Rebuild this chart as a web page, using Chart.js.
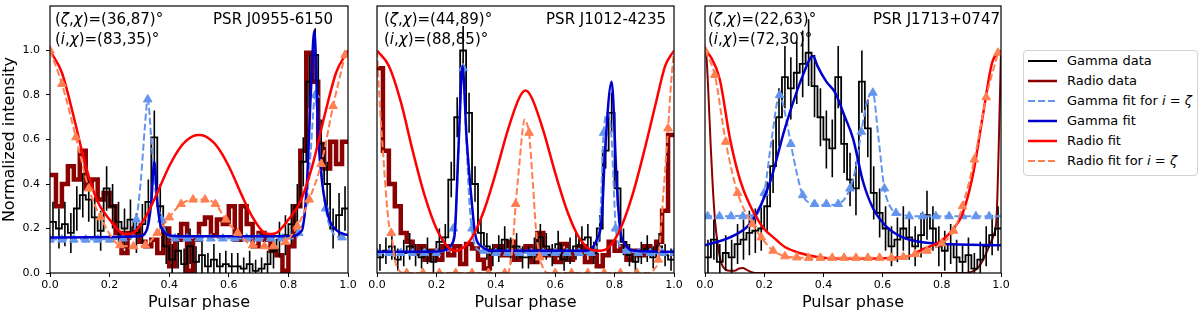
<!DOCTYPE html>
<html><head><meta charset="utf-8">
<script src="https://cdn.jsdelivr.net/npm/chart.js@4/dist/chart.umd.min.js"></script>
<style>
html,body{margin:0;padding:0;background:#fff;width:1200px;height:316px;overflow:hidden;font-family:"DejaVu Sans",sans-serif;}
canvas{position:absolute;top:0;}
#legend{position:absolute;left:1023px;top:50px;width:173px;height:124px;border:1px solid #d3d3d3;border-radius:4px;background:#fff;font-size:13px;color:#000;}
#legend .row{position:absolute;left:0;height:20px;line-height:20px;white-space:nowrap;}
#legend svg{position:absolute;left:4px;top:0;}
#legend span.t{position:absolute;left:43px;top:0;}
</style></head><body>
<canvas id="c1" width="365" height="316" style="left:0px"></canvas>
<canvas id="c2" width="330" height="316" style="left:360px"></canvas>
<canvas id="c3" width="325" height="316" style="left:690px"></canvas>
<div id="legend">
 <div class="row" style="top:0px"><svg width="30" height="20"><line x1="0" y1="10" x2="29" y2="10" stroke="#000" stroke-width="2"/></svg><span class="t">Gamma data</span></div>
 <div class="row" style="top:20px"><svg width="30" height="20"><line x1="0" y1="10" x2="29" y2="10" stroke="#8b0000" stroke-width="2.5"/></svg><span class="t">Radio data</span></div>
 <div class="row" style="top:40px"><svg width="30" height="20"><line x1="0" y1="10" x2="29" y2="10" stroke="#6495ED" stroke-width="2" stroke-dasharray="7,3"/></svg><span class="t">Gamma fit for <i>i</i> = <i>ζ</i></span></div>
 <div class="row" style="top:60px"><svg width="30" height="20"><line x1="0" y1="10" x2="29" y2="10" stroke="#0000CD" stroke-width="2.5"/></svg><span class="t">Gamma fit</span></div>
 <div class="row" style="top:80px"><svg width="30" height="20"><line x1="0" y1="10" x2="29" y2="10" stroke="#ff0000" stroke-width="2.5"/></svg><span class="t">Radio fit</span></div>
 <div class="row" style="top:100px"><svg width="30" height="20"><line x1="0" y1="10" x2="29" y2="10" stroke="#FF7F50" stroke-width="2" stroke-dasharray="7,3"/></svg><span class="t">Radio fit for <i>i</i> = <i>ζ</i></span></div>
</div>
<script>
// ---------- axis ticks ----------
const phaseTicks = [0, 0.2, 0.4, 0.6, 0.8, 1.0];
const intensityTicks = [0, 0.2, 0.4, 0.6, 0.8, 1.0];

// ---------- PSR J0955-6150 ----------
const p1Name = 'PSR J0955-6150';
const p1ZetaChi = [36, 87];
const p1IChi = [83, 35];
const p1Gamma = [0.23,0.20,0.22,0.18,0.29,0.35,0.33,0.25,0.19,0.38, 0.30,0.23,0.20,0.24,0.18,0.22,0.32,0.61,0.30,0.12, 0.06,0.10,0.04,0.12,0.05, 0.08,0.03,0.06,0.03,0.04, 0.03,0.03,0.02,0.04,0.01, 0.02,0.04,0.10,0.15,0.17, 0.22,0.30,0.50,0.86,0.98, 0.58,0.40,0.20,0.26,0.29];
const p1GammaErr = [0.09,0.09,0.10,0.09,0.10,0.10,0.10,0.09,0.09,0.10, 0.10,0.09,0.09,0.09,0.09,0.09,0.10,0.12,0.10,0.08, 0.07,0.08,0.07,0.08,0.07, 0.08,0.06,0.07,0.06,0.06, 0.06,0.06,0.05,0.06,0.05, 0.05,0.06,0.08,0.08,0.09, 0.09,0.10,0.11,0.12,0.12, 0.11,0.10,0.09,0.10,0.10];
const p1Radio = [0.44,0.30,0.40,0.48,0.42,0.55,0.38,0.42,0.33,0.36, 0.30,0.18,0.09,0.18,0.20,0.14,0.12,0.15,0.09,0.20, 0.03,0.15,0.22,0.01,0.15, 0.22,0.25,0.17,0.24,0.22, 0.30,0.15,0.30,0.22,0.12, 0.18,0.15,0.10,0.08,0.01, 0.12,0.30,0.55,0.99,0.86, 0.58,0.47,0.59,0.49,0.59];
const p1RadioFitX = [0,0.04,0.08,0.12,0.16,0.20,0.24,0.26,0.28,0.32,0.36,0.40,0.44,0.48,0.50,0.52,0.56,0.60,0.64,0.68,0.72,0.74,0.76,0.80,0.84,0.88,0.92,0.96,1.0];
const p1RadioFitY = [1.0,0.90,0.70,0.48,0.32,0.24,0.18,0.175,0.18,0.25,0.36,0.48,0.57,0.615,0.62,0.615,0.57,0.48,0.36,0.25,0.18,0.175,0.18,0.24,0.32,0.48,0.70,0.90,1.0];
const p1RadioZetaX = [0.0,0.04,0.087,0.13,0.17,0.235,0.28,0.32,0.36,0.40,0.44,0.48,0.52,0.555,0.59,0.63,0.68,0.72,0.75,0.79,0.83,0.87,0.91,0.95,0.99];
const p1RadioZetaY = [1.0,0.85,0.61,0.38,0.25,0.125,0.12,0.125,0.18,0.25,0.31,0.33,0.33,0.31,0.24,0.18,0.125,0.12,0.12,0.14,0.21,0.33,0.49,0.75,0.98];
const p1RadioZetaMarkX = p1RadioZetaX;
const p1RadioZetaMarkY = p1RadioZetaY;
const p1GammaZetaX = [0,0.27,0.29,0.305,0.318,0.328,0.34,0.355,0.375,0.40,0.82,0.84,0.86,0.875,0.89,0.905,0.925,0.95,0.98,1.0];
const p1GammaZetaY = [0.15,0.155,0.24,0.42,0.65,0.78,0.60,0.36,0.24,0.16,0.155,0.19,0.30,0.55,0.80,0.55,0.29,0.18,0.16,0.16];
const p1GammaZetaMarkX = [0.0,0.04,0.08,0.12,0.16,0.20,0.245,0.29,0.328,0.375,0.42,0.46,0.50,0.54,0.58,0.62,0.66,0.70,0.74,0.78,0.835,0.89,0.925,0.98];
const p1GammaZetaMarkY = [0.15,0.15,0.15,0.15,0.15,0.15,0.155,0.24,0.78,0.24,0.155,0.155,0.155,0.155,0.155,0.155,0.155,0.155,0.155,0.155,0.18,0.80,0.29,0.16];
const p1GammaFitX = [0,0.30,0.32,0.33,0.34,0.35,0.36,0.37,0.38,0.40,0.44,0.80,0.845,0.862,0.875,0.887,0.90,0.913,0.935,0.963,1.0];
const p1GammaFitY = [0.16,0.165,0.18,0.22,0.32,0.50,0.32,0.22,0.19,0.17,0.165,0.165,0.19,0.40,0.80,1.09,0.62,0.41,0.25,0.19,0.17];

// ---------- PSR J1012-4235 ----------
const p2Name = 'PSR J1012-4235';
const p2ZetaChi = [44, 89];
const p2IChi = [88, 85];
const p2Gamma = [0.07,0.10,0.12,0.06,0.09,0.12,0.08,0.07,0.10,0.05, 0.14,0.16,0.42,0.70,1.00,0.72,0.40,0.18,0.12,0.08, 0.11,0.15,0.10,0.12,0.07, 0.07,0.10,0.16,0.12,0.08, 0.13,0.06,0.10,0.12,0.15, 0.16,0.09,0.20,0.55,0.72, 0.38,0.14,0.08,0.05,0.09, 0.11,0.07,0.12,0.08,0.06];
const p2GammaErr = [0.06,0.06,0.06,0.05,0.06,0.06,0.05,0.05,0.06,0.05, 0.06,0.06,0.08,0.09,0.11,0.09,0.08,0.06,0.06,0.05, 0.06,0.06,0.06,0.06,0.05, 0.05,0.06,0.06,0.06,0.05, 0.06,0.05,0.06,0.06,0.06, 0.06,0.05,0.06,0.08,0.09, 0.08,0.06,0.05,0.05,0.05, 0.06,0.05,0.06,0.05,0.05];
const p2Radio = [0.92,0.55,0.40,0.30,0.18,0.14,0.09,0.12,0.06,0.10, 0.06,0.12,0.08,0.12,0.04,0.13,0.11,0.06,0.02,0.10, 0.12,0.08,0.14,0.06,0.10, 0.12,0.05,0.18,0.08,0.10, 0.05,0.13,0.06,0.09,0.12, 0.05,0.08,0.03,0.08,0.14, 0.10,0.12,0.06,0.10,0.08, 0.12,0.10,0.14,0.28,0.62];
const p2RadioFitX = [0,0.04,0.08,0.12,0.16,0.20,0.24,0.26,0.28,0.32,0.36,0.40,0.44,0.48,0.50,0.52,0.56,0.60,0.64,0.68,0.72,0.75,0.78,0.82,0.86,0.90,0.94,0.97,1.0];
const p2RadioFitY = [1.0,0.93,0.77,0.55,0.35,0.20,0.115,0.10,0.105,0.16,0.28,0.45,0.64,0.79,0.82,0.79,0.64,0.45,0.28,0.16,0.105,0.10,0.115,0.20,0.35,0.55,0.77,0.93,1.0];
const p2RadioZetaX = [0,0.01,0.02,0.03,0.04,0.048,0.06,0.075,0.09,0.44,0.455,0.467,0.48,0.49,0.497,0.505,0.512,0.525,0.535,0.548,0.56,0.575,0.92,0.935,0.947,0.965,0.98,0.99,1.0];
const p2RadioZetaY = [1.0,0.74,0.55,0.36,0.22,0.18,0.06,0.01,0.0,0.0,0.10,0.31,0.50,0.64,0.69,0.67,0.63,0.40,0.20,0.07,0.02,0.0,0.0,0.02,0.06,0.37,0.65,0.85,1.0];
const p2RadioZetaMarkX = [0.048,0.10,0.155,0.21,0.265,0.32,0.375,0.43,0.467,0.512,0.548,0.60,0.655,0.71,0.765,0.82,0.875,0.947,0.98];
const p2RadioZetaMarkY = [0.18,0.0,0.0,0.0,0.0,0.0,0.0,0.0,0.31,0.63,0.07,0.0,0.0,0.0,0.0,0.0,0.0,0.06,0.65];
const p2GammaZetaX = [0,0.24,0.255,0.265,0.276,0.288,0.30,0.312,0.325,0.345,0.40,0.72,0.74,0.752,0.763,0.778,0.79,0.803,0.815,0.85,1.0];
const p2GammaZetaY = [0.09,0.10,0.14,0.25,0.60,0.93,0.62,0.30,0.15,0.10,0.09,0.09,0.12,0.25,0.63,0.72,0.60,0.22,0.13,0.095,0.09];
const p2GammaZetaMarkX = [0.0,0.04,0.08,0.12,0.16,0.20,0.257,0.29,0.32,0.36,0.40,0.44,0.48,0.52,0.56,0.60,0.64,0.68,0.72,0.763,0.803,0.84,0.88,0.92,0.96,1.0];
const p2GammaZetaMarkY = [0.09,0.09,0.09,0.09,0.09,0.09,0.2,0.92,0.2,0.10,0.09,0.09,0.09,0.09,0.09,0.09,0.09,0.09,0.09,0.63,0.2,0.10,0.09,0.09,0.09,0.09];
const p2GammaFitX = [0,0.20,0.24,0.252,0.262,0.274,0.288,0.302,0.319,0.33,0.352,0.40,0.70,0.74,0.757,0.768,0.79,0.807,0.818,0.835,0.87,1.0];
const p2GammaFitY = [0.095,0.097,0.11,0.13,0.18,0.55,0.93,0.60,0.32,0.18,0.12,0.10,0.10,0.15,0.25,0.55,0.86,0.41,0.20,0.13,0.10,0.095];

// ---------- PSR J1713+0747 ----------
const p3Name = 'PSR J1713+0747';
const p3ZetaChi = [22, 63];
const p3IChi = [72, 30];
const p3Gamma = [0.07,0.15,0.05,0.09,0.07,0.13,0.15,0.18,0.19,0.20, 0.30,0.48,0.70,0.88,0.83,0.90,0.94,0.99,0.84,0.70, 0.60,0.56,0.88,0.58,0.42, 0.38,0.86,0.65,0.36,0.27, 0.20,0.12,0.15,0.20,0.16, 0.12,0.17,0.26,0.20,0.12, 0.10,0.13,0.07,0.05,0.08, 0.02,0.06,0.12,0.17,0.20];
const p3GammaErr = [0.08,0.09,0.08,0.08,0.08,0.09,0.09,0.10,0.10,0.10, 0.11,0.12,0.13,0.14,0.14,0.14,0.15,0.15,0.14,0.13, 0.13,0.13,0.14,0.13,0.12, 0.12,0.14,0.13,0.12,0.11, 0.10,0.09,0.10,0.10,0.10, 0.09,0.10,0.11,0.10,0.09, 0.09,0.09,0.08,0.08,0.08, 0.07,0.08,0.09,0.09,0.10];
const p3RadioX = [0,0.005,0.01,0.02,0.027,0.035,0.044,0.052,0.06,0.07,0.083,0.10,0.115,0.128,0.14,0.155,0.17,0.30,0.50,0.70,0.88,0.90,0.92,0.94,0.96,0.975,0.985,0.992,1.0];
const p3RadioY = [1.0,0.97,0.85,0.55,0.37,0.22,0.12,0.06,0.03,0.015,0.01,0.01,0.02,0.022,0.015,0.005,0.0,0.0,0.0,0.0,0.0,0.005,0.02,0.06,0.12,0.17,0.25,0.55,1.0];
const p3RadioFitX = [0,0.02,0.05,0.085,0.118,0.15,0.196,0.24,0.27,0.32,0.38,0.45,0.55,0.65,0.70,0.725,0.80,0.84,0.87,0.905,0.939,0.97,1.0];
const p3RadioFitY = [1.0,0.97,0.87,0.60,0.42,0.31,0.205,0.15,0.117,0.09,0.072,0.065,0.065,0.07,0.08,0.10,0.146,0.20,0.266,0.44,0.71,0.945,1.0];
const p3RadioZetaX = [0,0.033,0.07,0.11,0.16,0.19,0.23,0.27,0.31,0.35,0.39,0.43,0.47,0.51,0.55,0.59,0.63,0.67,0.71,0.75,0.80,0.84,0.87,0.91,0.95,0.99];
const p3RadioZetaY = [1.0,0.89,0.59,0.36,0.22,0.16,0.10,0.075,0.07,0.068,0.068,0.068,0.068,0.068,0.068,0.068,0.068,0.072,0.085,0.10,0.133,0.19,0.30,0.51,0.79,0.99];
const p3RadioZetaMarkX = p3RadioZetaX;
const p3RadioZetaMarkY = p3RadioZetaY;
const p3GammaZetaX = [0,0.17,0.20,0.225,0.252,0.27,0.29,0.31,0.33,0.37,0.41,0.45,0.49,0.51,0.528,0.55,0.567,0.585,0.606,0.625,0.645,0.67,0.70,1.0];
const p3GammaZetaY = [0.255,0.26,0.36,0.60,0.80,0.72,0.58,0.45,0.35,0.31,0.305,0.31,0.38,0.48,0.635,0.78,0.81,0.62,0.38,0.30,0.27,0.26,0.255,0.255];
const p3GammaZetaMarkX = [0.009,0.049,0.088,0.128,0.167,0.20,0.252,0.29,0.33,0.37,0.41,0.45,0.49,0.528,0.567,0.606,0.645,0.69,0.735,0.78,0.825,0.87,0.915,0.96];
const p3GammaZetaMarkY = [0.255,0.255,0.255,0.255,0.255,0.36,0.80,0.58,0.35,0.31,0.31,0.31,0.38,0.635,0.81,0.38,0.27,0.255,0.255,0.255,0.255,0.255,0.255,0.255];
const p3GammaFitX = [0,0.10,0.16,0.22,0.27,0.33,0.365,0.38,0.41,0.44,0.47,0.50,0.534,0.568,0.612,0.668,0.725,0.80,1.0];
const p3GammaFitY = [0.124,0.17,0.235,0.41,0.65,0.886,0.975,0.93,0.86,0.81,0.71,0.605,0.41,0.29,0.21,0.16,0.14,0.13,0.125];

// ---------- helpers ----------
const C = {gamma:'#000000', radio:'#8b0000', gZeta:'#6495ED', gFit:'#0000CD', rFit:'#ff0000', rZeta:'#FF7F50'};
function xy(xs, ys){ return xs.map((x,i)=>({x:x, y:ys[i]})); }
function steps(vals){ const n=vals.length; const p=vals.map((v,i)=>({x:i/n, y:v})); p.push({x:1, y:vals[n-1]}); return p; }
function errs(vals, e){ const n=vals.length, p=[]; vals.forEach((v,i)=>{ const c=(i+0.5)/n; p.push({x:c,y:v-e[i]},{x:c,y:v+e[i]},{x:c,y:null}); }); return p; }

Chart.defaults.font.family = '"DejaVu Sans", sans-serif';
Chart.defaults.color = '#000';

const framePlugin = { id:'frame', afterDatasetsDraw(chart){ const a=chart.chartArea, ctx=chart.ctx; ctx.save(); ctx.strokeStyle='#000'; ctx.lineWidth=1.2; ctx.strokeRect(a.left, a.top, a.right-a.left, a.bottom-a.top); ctx.restore(); } };

function drawRuns(ctx, x, y, runs){
  runs.forEach(r=>{ ctx.font=(r[1]?'oblique ':'')+'15px "DejaVu Sans"'; ctx.fillText(r[0], x, y); x += ctx.measureText(r[0]).width; });
}
const annotPlugin = { id:'annot', afterDraw(chart, args, o){
  const a=chart.chartArea, ctx=chart.ctx; ctx.save(); ctx.fillStyle='#000'; ctx.textBaseline='alphabetic'; ctx.textAlign='left';
  drawRuns(ctx, a.left+o.lx, a.top+18, [['(',0],['ζ',1],[',',0],['χ',1],[')=('+o.zc[0]+','+o.zc[1]+')°',0]]);
  drawRuns(ctx, a.left+o.lx, a.top+38, [['(',0],['i',1],[',',0],['χ',1],[')=('+o.ic[0]+','+o.ic[1]+')°',0]]);
  ctx.font='15px "DejaVu Sans"'; ctx.textAlign='right'; ctx.fillText(o.name, a.right-o.rx, a.top+18);
  ctx.restore(); } };

function makePanel(id, d){
  const sets = [];
  if (d.radioSteps) sets.push({data:steps(d.radioSteps), borderColor:C.radio, borderWidth:4.5, stepped:true, pointRadius:0, order:9});
  if (d.radioLine) sets.push({data:d.radioLine, borderColor:C.radio, borderWidth:2, cubicInterpolationMode:'monotone', pointRadius:0, order:9});
  sets.push({data:steps(d.gamma), borderColor:C.gamma, borderWidth:1.8, stepped:true, pointRadius:0, order:8});
  sets.push({data:errs(d.gamma, d.gammaErr), borderColor:C.gamma, borderWidth:1.6, spanGaps:false, pointRadius:0, order:7});
  sets.push({data:d.gZeta, borderColor:C.gZeta, borderWidth:2, borderDash:[7,3], cubicInterpolationMode:'monotone', pointRadius:0, order:6});
  sets.push({data:d.gZetaMark, showLine:false, pointStyle:'triangle', pointRadius:5, pointBackgroundColor:C.gZeta, pointBorderColor:C.gZeta, pointBorderWidth:1, order:5});
  sets.push({data:d.gFit, borderColor:C.gFit, borderWidth:2.5, cubicInterpolationMode:'monotone', pointRadius:0, order:4});
  sets.push({data:d.rFit, borderColor:C.rFit, borderWidth:2.5, cubicInterpolationMode:'monotone', pointRadius:0, order:3});
  sets.push({data:d.rZeta, borderColor:C.rZeta, borderWidth:2, borderDash:[7,3], cubicInterpolationMode:'monotone', pointRadius:0, order:2});
  sets.push({data:d.rZetaMark, showLine:false, pointStyle:'triangle', pointRadius:5, pointBackgroundColor:C.rZeta, pointBorderColor:C.rZeta, pointBorderWidth:1, order:1});
  sets.forEach(s=>{ s.clip = 0; s.fill = false; });
  const yScale = d.showY ? {
      min:0, max:1.2,
      afterBuildTicks: s=>{ s.ticks = intensityTicks.map(v=>({value:v})); },
      ticks:{callback:v=>Number(v).toFixed(1), font:{size:11}, color:'#000', padding:6, autoSkip:false},
      grid:{display:true, drawOnChartArea:false, drawTicks:true, tickLength:4, color:'#000', lineWidth:1},
      border:{display:false},
      title:{display:true, text:'Normalized intensity', font:{size:16}, color:'#000', padding:{top:0,bottom:0}},
      afterFit: s=>{ s.width=50; s.paddingTop=0; s.paddingBottom=0; }
    } : {min:0, max:1.2, display:false};
  new Chart(document.getElementById(id), {
    type:'line',
    data:{datasets:sets},
    options:{
      responsive:false, animation:false, events:[],
      layout:{padding:{left:d.padL, right:d.padR, top:2, bottom:0}},
      plugins:{legend:{display:false}, tooltip:{enabled:false},
        annot:{lx:d.lx, rx:d.rx, zc:d.zc, ic:d.ic, name:d.name}},
      scales:{
        x:{type:'linear', min:0, max:1,
          afterBuildTicks: s=>{ s.ticks = phaseTicks.map(v=>({value:v})); },
          ticks:{callback:v=>Number(v).toFixed(1), font:{size:11}, color:'#000', padding:2, maxRotation:0, autoSkip:false},
          grid:{display:true, drawOnChartArea:false, drawTicks:true, tickLength:4, color:'#000', lineWidth:1},
          border:{display:false},
          title:{display:true, text:'Pulsar phase', font:{size:16}, color:'#000', padding:{top:0,bottom:4}},
          afterFit: s=>{ s.height=43; s.paddingLeft=0; s.paddingRight=0; }
        },
        y:yScale
      }
    },
    plugins:[framePlugin, annotPlugin]
  });
}

makePanel('c1', {showY:true, padL:0, padR:17, lx:5, rx:15, zc:p1ZetaChi, ic:p1IChi, name:p1Name,
  gamma:p1Gamma, gammaErr:p1GammaErr, radioSteps:p1Radio,
  rFit:xy(p1RadioFitX,p1RadioFitY), rZeta:xy(p1RadioZetaX,p1RadioZetaY), rZetaMark:xy(p1RadioZetaMarkX,p1RadioZetaMarkY),
  gZeta:xy(p1GammaZetaX,p1GammaZetaY), gZetaMark:xy(p1GammaZetaMarkX,p1GammaZetaMarkY), gFit:xy(p1GammaFitX,p1GammaFitY)});
makePanel('c2', {showY:false, padL:17, padR:16, lx:7, rx:8, zc:p2ZetaChi, ic:p2IChi, name:p2Name,
  gamma:p2Gamma, gammaErr:p2GammaErr, radioSteps:p2Radio,
  rFit:xy(p2RadioFitX,p2RadioFitY), rZeta:xy(p2RadioZetaX,p2RadioZetaY), rZetaMark:xy(p2RadioZetaMarkX,p2RadioZetaMarkY),
  gZeta:xy(p2GammaZetaX,p2GammaZetaY), gZetaMark:xy(p2GammaZetaMarkX,p2GammaZetaMarkY), gFit:xy(p2GammaFitX,p2GammaFitY)});
makePanel('c3', {showY:false, padL:15, padR:14, lx:3, rx:1, zc:p3ZetaChi, ic:p3IChi, name:p3Name,
  gamma:p3Gamma, gammaErr:p3GammaErr, radioLine:xy(p3RadioX,p3RadioY),
  rFit:xy(p3RadioFitX,p3RadioFitY), rZeta:xy(p3RadioZetaX,p3RadioZetaY), rZetaMark:xy(p3RadioZetaMarkX,p3RadioZetaMarkY),
  gZeta:xy(p3GammaZetaX,p3GammaZetaY), gZetaMark:xy(p3GammaZetaMarkX,p3GammaZetaMarkY), gFit:xy(p3GammaFitX,p3GammaFitY)});
</script>
</body></html>
